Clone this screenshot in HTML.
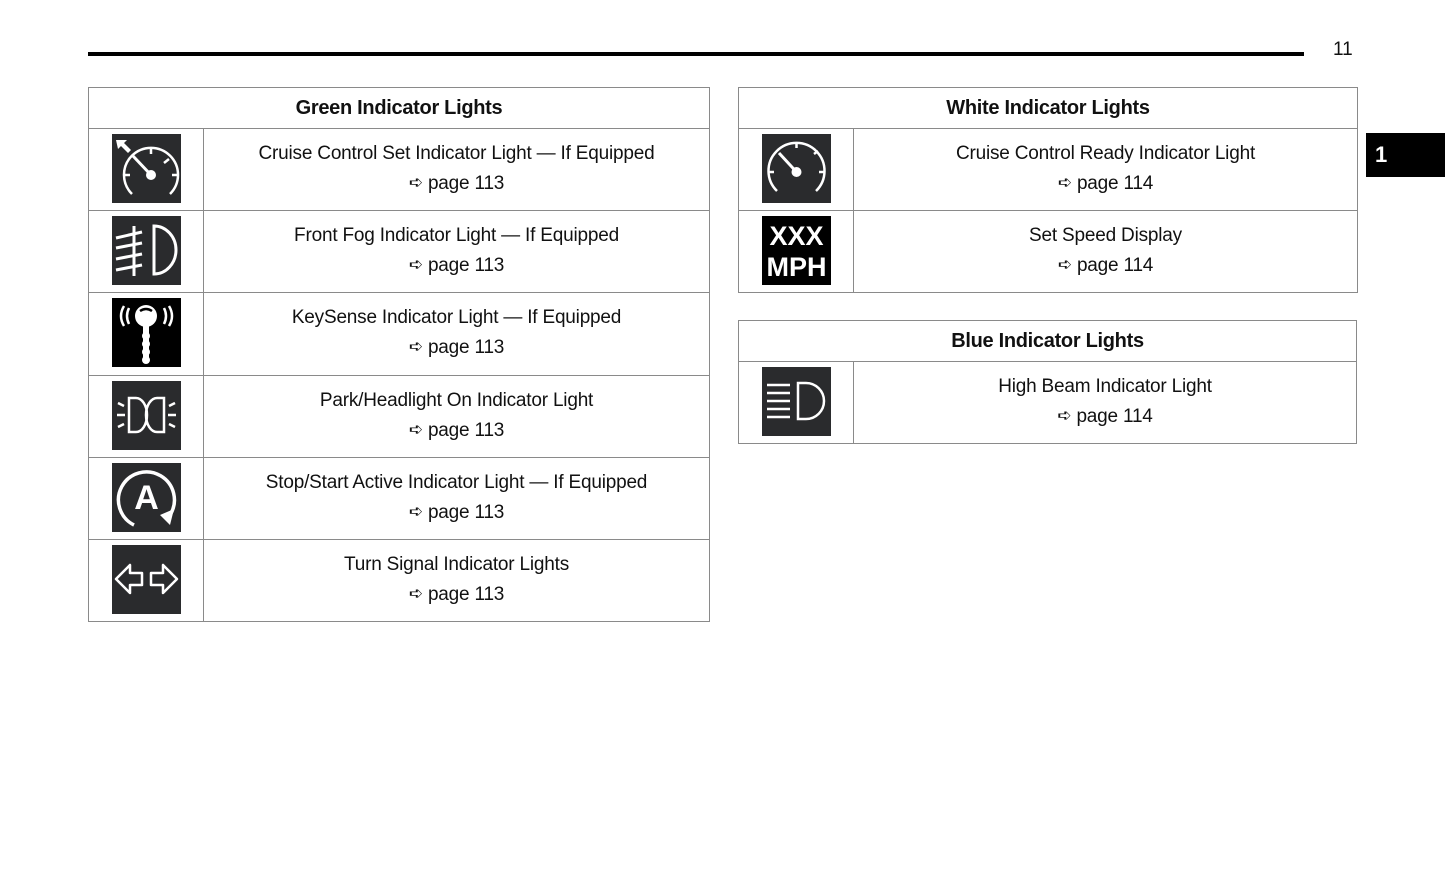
<!DOCTYPE html>
<html><head><meta charset="utf-8"><style>
body{margin:0;width:1445px;height:874px;background:#fff;position:relative;overflow:hidden;font-family:"Liberation Sans",sans-serif;color:#111}
.a{position:absolute}
.tbl{position:absolute;border:1px solid #8a8a8a;box-sizing:border-box}
.hd{position:absolute;left:0;right:0;height:40px;line-height:41px;text-align:center;font-weight:bold;font-size:20px;border-bottom:1px solid #8a8a8a;letter-spacing:-0.3px}
.row{position:absolute;left:0;right:0;border-top:1px solid #8a8a8a;height:82px}
.ic{position:absolute;left:0;top:0;width:114px;height:100%;border-right:1px solid #8a8a8a}
.ic svg{position:absolute;left:23px;top:5px}
.tx{position:absolute;left:115px;right:0;top:10px;text-align:center;font-size:19px;line-height:30px;letter-spacing:-0.2px}
.ar{font-family:"DejaVu Sans",sans-serif;font-size:17px;position:relative;top:-1px}
</style></head><body>
<div class="a" style="left:88px;top:52px;width:1216px;height:4px;background:#000"></div>
<div class="a" style="left:1333px;top:39px;font-size:19px">11</div>
<div class="a" style="left:1366px;top:133px;width:79px;height:44px;background:#000;color:#fff;font-weight:bold;font-size:22px;line-height:44px;padding-left:9px;box-sizing:border-box">1</div>

<div class="tbl" style="left:88px;top:87px;width:622px;height:535px">
<div class="hd" style="top:0">Green Indicator Lights</div>
<div class="row" style="top:40px"><div class="ic"><svg width="69" height="69"><rect width="69" height="69" fill="#2a2b2d"/><path d="M4 6l11 0-3 3 7 7-3 3-7-7-3 3z" fill="#fff"/><g stroke="#fff" stroke-width="2.5" fill="none"><path d="M20 60 A27 27 0 1 1 58 60"/><line x1="39" y1="14" x2="39" y2="20"/><line x1="57" y1="25" x2="52" y2="29"/><line x1="12" y1="41" x2="18" y2="41"/><line x1="60" y1="41" x2="66" y2="41"/><line x1="21" y1="22" x2="39" y2="41" stroke-width="3"/></g><circle cx="39" cy="41" r="5" fill="#fff"/></svg></div><div class="tx">Cruise Control Set Indicator Light — If Equipped<br><span class="ar">➪</span> page 113</div></div>
<div class="row" style="top:122px"><div class="ic"><svg width="69" height="69"><rect width="69" height="69" fill="#2a2b2d"/><g stroke="#fff" stroke-width="3" fill="none"><path d="M42 10 A22 24 0 0 1 42 58 Z"/><line x1="22" y1="10" x2="22" y2="60"/><line x1="4" y1="22" x2="30" y2="16"/><line x1="4" y1="32" x2="30" y2="27"/><line x1="4" y1="43" x2="30" y2="38"/><line x1="4" y1="54" x2="30" y2="49"/></g></svg></div><div class="tx">Front Fog Indicator Light — If Equipped<br><span class="ar">➪</span> page 113</div></div>
<div class="row" style="top:204px"><div class="ic"><svg width="69" height="69"><rect width="69" height="69" fill="#000"/><g stroke="#fff" stroke-width="2.5" fill="none"><path d="M12 8 Q6 18 12 28"/><path d="M17 10 Q13 18 17 26"/><path d="M57 8 Q63 18 57 28"/><path d="M52 10 Q56 18 52 26"/></g><circle cx="34" cy="18" r="11" fill="#fff"/><rect x="31" y="26" width="6" height="38" fill="#fff"/><g fill="#fff"><circle cx="34" cy="38" r="4"/><circle cx="34" cy="46" r="4"/><circle cx="34" cy="54" r="4"/><circle cx="34" cy="62" r="4"/></g><path d="M28 13 Q34 9 40 13" stroke="#000" stroke-width="2.5" fill="none"/></svg></div><div class="tx">KeySense Indicator Light — If Equipped<br><span class="ar">➪</span> page 113</div></div>
<div class="row" style="top:287px"><div class="ic"><svg width="69" height="69"><rect width="69" height="69" fill="#2a2b2d"/><g stroke="#fff" stroke-width="2.5" fill="none"><path d="M17 17 L24 17 A11 17 0 0 1 24 51 L17 51 Z"/><path d="M52 17 L45 17 A11 17 0 0 0 45 51 L52 51 Z"/><line x1="5" y1="34" x2="13" y2="34"/><line x1="6" y1="22" x2="12" y2="25"/><line x1="6" y1="46" x2="12" y2="43"/><line x1="56" y1="34" x2="64" y2="34"/><line x1="57" y1="25" x2="63" y2="22"/><line x1="57" y1="43" x2="63" y2="46"/></g></svg></div><div class="tx">Park/Headlight On Indicator Light<br><span class="ar">➪</span> page 113</div></div>
<div class="row" style="top:369px"><div class="ic"><svg width="69" height="69"><rect width="69" height="69" fill="#2a2b2d"/><path d="M22 62 A28 28 0 1 1 58 52" stroke="#fff" stroke-width="3.5" fill="none"/><path d="M48 52 L62 46 L58 62 Z" fill="#fff"/><text x="34.5" y="46" font-family="Liberation Sans" font-weight="bold" font-size="34" fill="#fff" text-anchor="middle">A</text></svg></div><div class="tx">Stop/Start Active Indicator Light — If Equipped<br><span class="ar">➪</span> page 113</div></div>
<div class="row" style="top:451px"><div class="ic"><svg width="69" height="69"><rect width="69" height="69" fill="#2a2b2d"/><g stroke="#fff" stroke-width="2.5" fill="none" stroke-linejoin="round"><path d="M4 34 L18 20 L18 28 L30 28 L30 40 L18 40 L18 48 Z"/><path d="M65 34 L51 20 L51 28 L39 28 L39 40 L51 40 L51 48 Z"/></g></svg></div><div class="tx">Turn Signal Indicator Lights<br><span class="ar">➪</span> page 113</div></div>
</div>

<div class="tbl" style="left:738px;top:87px;width:620px;height:206px">
<div class="hd" style="top:0">White Indicator Lights</div>
<div class="row" style="top:40px"><div class="ic"><svg width="69" height="69"><rect width="69" height="69" fill="#2a2b2d"/><g stroke="#fff" stroke-width="2.5" fill="none"><path d="M15 57 A28 28 0 1 1 54 57"/><line x1="34.5" y1="8" x2="34.5" y2="14"/><line x1="6" y1="38" x2="12" y2="38"/><line x1="57" y1="38" x2="63" y2="38"/><line x1="52" y1="20" x2="56" y2="17"/><line x1="17" y1="19" x2="34.5" y2="38" stroke-width="3"/></g><circle cx="34.5" cy="38" r="5" fill="#fff"/></svg></div><div class="tx">Cruise Control Ready Indicator Light<br><span class="ar">➪</span> page 114</div></div>
<div class="row" style="top:122px"><div class="ic"><svg width="69" height="69"><rect width="69" height="69" fill="#000"/><text x="34.5" y="29" font-family="Liberation Sans" font-weight="bold" font-size="27" fill="#fff" text-anchor="middle">XXX</text><text x="34.5" y="60" font-family="Liberation Sans" font-weight="bold" font-size="27" fill="#fff" text-anchor="middle">MPH</text></svg></div><div class="tx">Set Speed Display<br><span class="ar">➪</span> page 114</div></div>
</div>

<div class="tbl" style="left:738px;top:320px;width:619px;height:124px">
<div class="hd" style="top:0">Blue Indicator Lights</div>
<div class="row" style="top:40px"><div class="ic"><svg width="69" height="69"><rect width="69" height="69" fill="#2a2b2d"/><g stroke="#fff" stroke-width="2.5" fill="none"><path d="M36 16 L44 16 A18 18 0 0 1 44 52 L36 52 Z"/><line x1="5" y1="18" x2="28" y2="18"/><line x1="5" y1="26" x2="28" y2="26"/><line x1="5" y1="34" x2="28" y2="34"/><line x1="5" y1="42" x2="28" y2="42"/><line x1="5" y1="50" x2="28" y2="50"/></g></svg></div><div class="tx">High Beam Indicator Light<br><span class="ar">➪</span> page 114</div></div>
</div>
</body></html>
